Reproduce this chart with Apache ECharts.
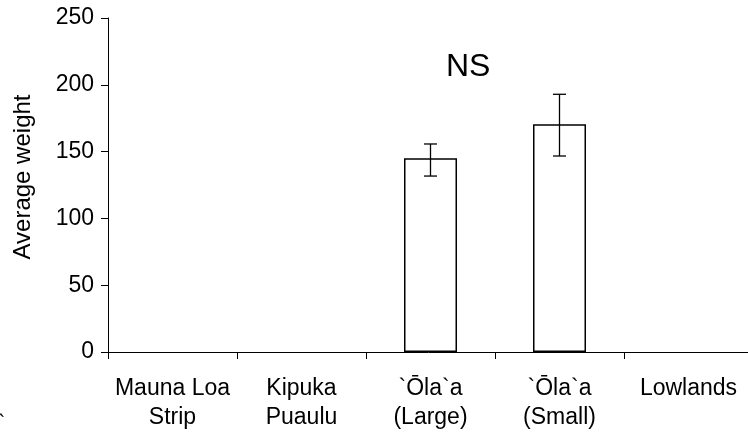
<!DOCTYPE html>
<html>
<head>
<meta charset="utf-8">
<script src="https://cdn.jsdelivr.net/npm/echarts@6/dist/echarts.min.js"></script>
<style>html,body{margin:0;padding:0;background:#fff}#c{width:748px;height:433px}</style>
</head>
<body>
<div id="c"></div>
<script>
var categories = ['Mauna Loa\nStrip', 'Kipuka\nPuaulu', '`\u014Cla`a\n(Large)', '`\u014Cla`a\n(Small)', 'Lowlands'];
var values = [null, null, 145, 170.4, null];
var errLow = [null, null, 131.7, 146.7, null];
var errHigh = [null, null, 155.7, 192.9, null];
var yTicks = [0, 50, 100, 150, 200, 250];
var yTitle = 'Average weight';
var annotation = 'NS';

var FONT = 'Liberation Sans, Arial, sans-serif';
var chart = echarts.init(document.getElementById('c'), null, {renderer: 'canvas'});

var errData = [];
for (var i = 0; i < categories.length; i++) {
  if (values[i] != null) errData.push([i, errLow[i], errHigh[i]]);
}

chart.setOption({
  animation: false,
  backgroundColor: '#fff',
  grid: {left: 108, top: 18, width: 645, height: 334, containLabel: false, outerBoundsMode: 'none'},
  xAxis: {
    type: 'category',
    data: categories,
    boundaryGap: true,
    axisLine: {lineStyle: {color: '#000', width: 1}},
    axisTick: {show: true, inside: false, length: 7, lineStyle: {color: '#000'}},
    axisLabel: {color: '#000', fontSize: 23, fontFamily: FONT, lineHeight: 29, margin: 22, interval: 0, align: 'center'},
    splitLine: {show: false}
  },
  yAxis: {
    type: 'value',
    min: yTicks[0],
    max: yTicks[yTicks.length - 1],
    interval: yTicks[1] - yTicks[0],
    axisLine: {show: true, lineStyle: {color: '#000', width: 1}},
    axisTick: {show: true, inside: false, length: 7, lineStyle: {color: '#000'}},
    axisLabel: {color: '#000', fontSize: 23, fontFamily: FONT, margin: 14},
    splitLine: {show: false}
  },
  series: [
    {
      type: 'bar',
      data: values,
      barWidth: 53,
      itemStyle: {color: '#fff', borderColor: '#000', borderWidth: 1.5},
      z: 2
    },
    {
      type: 'custom',
      data: errData,
      z: 3,
      renderItem: function (params, api) {
        var x = api.value(0);
        var lo = api.coord([x, api.value(1)]);
        var hi = api.coord([x, api.value(2)]);
        var hw = 6.5;
        var st = {stroke: '#000', lineWidth: 1.3};
        return {
          type: 'group',
          children: [
            {type: 'line', shape: {x1: lo[0], y1: lo[1], x2: hi[0], y2: hi[1]}, style: st},
            {type: 'line', shape: {x1: lo[0] - hw, y1: lo[1], x2: lo[0] + hw, y2: lo[1]}, style: st},
            {type: 'line', shape: {x1: hi[0] - hw, y1: hi[1], x2: hi[0] + hw, y2: hi[1]}, style: st}
          ]
        };
      }
    }
  ],
  graphic: [
    {type: 'text', x: 23, y: 177, rotation: Math.PI / 2,
     style: {text: yTitle, fontSize: 24, fontFamily: FONT, fill: '#000', align: 'center', verticalAlign: 'middle'}},
    {type: 'text', left: 468 - 22, top: 66 - 15, style: {text: annotation, fontSize: 32, fontFamily: FONT, fill: '#000'}},
    {type: 'text', left: -2, top: 413, style: {text: '`', fontSize: 22, fontFamily: FONT, fill: '#000'}}
  ]
});
</script>
</body>
</html>
